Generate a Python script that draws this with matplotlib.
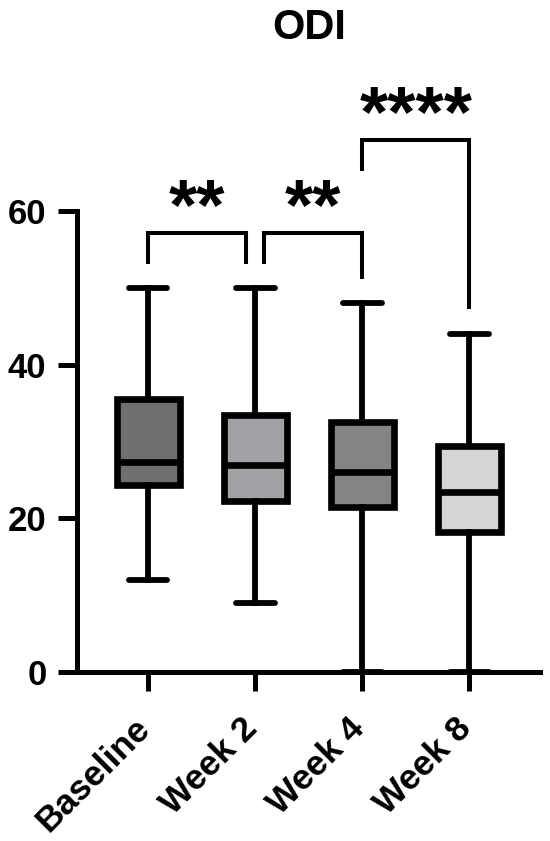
import numpy as np
import matplotlib
matplotlib.use("Agg")
import matplotlib.pyplot as plt
import matplotlib.transforms as mtransforms

plt.rcParams['font.family'] = ['Liberation Sans', 'DejaVu Sans']
plt.rcParams['font.weight'] = 'bold'

# box summary values
groups = ['Baseline', 'Week 2', 'Week 4', 'Week 8']
whislo = [12, 9, 0, 0]
q1 = [24.3, 22.3, 21.5, 18.3]
med = [27.4, 26.9, 26.0, 23.4]
q3 = [35.6, 33.4, 32.5, 29.4]
whishi = [50, 50, 48, 44]
fills = ['#6f6f6f', '#a2a2a6', '#848484', '#d5d5d5']

# significance brackets: (left group, right group), bar height, leg ends, label
pairs = [(0, 1), (1, 2), (2, 3)]
bar_top = [57.1, 57.1, 69.2]
leg_left = [53.4, 53.4, 65.5]
leg_right = [53.4, 51.4, 47.5]
stars = ['**', '**', '****']

fig = plt.figure(figsize=(5.5, 8.41), dpi=100)
ax = fig.add_axes([0.14, 0.2006, 0.842, 0.7315])

stats = []
for i, g in enumerate(groups):
    stats.append(dict(label=g, whislo=whislo[i], q1=q1[i], med=med[i],
                      q3=q3[i], whishi=whishi[i], fliers=[]))

lw = 4.8
bp = ax.bxp(stats, positions=np.arange(len(groups)), widths=0.59,
            capwidths=0.36, patch_artist=True, showfliers=False,
            boxprops=dict(linewidth=lw, edgecolor='black'),
            medianprops=dict(linewidth=lw, color='black', solid_capstyle='butt'),
            whiskerprops=dict(linewidth=4.2, color='black'),
            capprops=dict(linewidth=4.2, color='black', solid_capstyle='round'))
for patch, c in zip(bp['boxes'], fills):
    patch.set_facecolor(c)
for art in bp['whiskers'] + bp['caps'] + bp['boxes'] + bp['medians']:
    art.set_clip_on(False)
    art.set_zorder(4)

# brackets
inset = 0.085
for k, (a, b) in enumerate(pairs):
    xa, xb = a, b
    # pull the shared ends apart where two brackets meet at the same height
    if k == 0:
        xb = b - inset
    if k == 1:
        xa = a + inset
    ax.plot([xa, xa, xb, xb], [leg_left[k], bar_top[k], bar_top[k], leg_right[k]],
            color='black', lw=2.9, clip_on=False, solid_joinstyle='miter')
    ax.text((xa + xb) / 2, bar_top[k] - 1.4, stars[k], ha='center', va='bottom',
            fontsize=52, fontweight='bold')

ax.set_xlim(-0.665, 3.66)
ax.set_ylim(0, 80)
ax.set_yticks([0, 20, 40, 60])
ax.spines['left'].set_bounds(0, 60)
for s in ['top', 'right']:
    ax.spines[s].set_visible(False)
for s in ['left', 'bottom']:
    ax.spines[s].set_linewidth(3.6)
ax.tick_params(axis='both', width=3.6, length=14, labelsize=25, pad=8)
ax.set_xticks(np.arange(len(groups)))
ax.set_xticklabels(groups, rotation=45, ha='right', va='top',
                   rotation_mode='anchor', fontsize=25.5, fontweight='bold')
ax.tick_params(axis='x', pad=12)
shift = mtransforms.ScaledTranslation(-0.15, -0.03, fig.dpi_scale_trans)
for t in ax.get_xticklabels():
    t.set_transform(t.get_transform() + shift)
for t in ax.get_yticklabels():
    t.set_fontweight('bold')

fig.text(309 / 550, 1 - 28 / 841, 'ODI', ha='center', va='center',
         fontsize=30, fontweight='bold')

fig.savefig('out.png', dpi=100)
